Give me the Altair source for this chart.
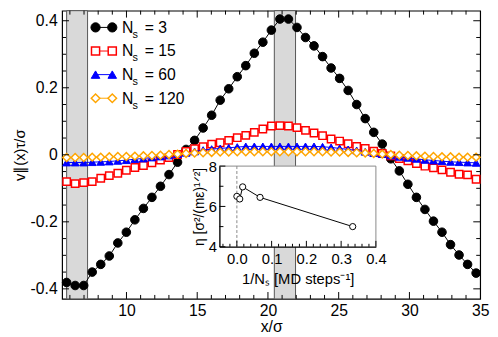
import altair as alt
import pandas as pd

# ---------------- data ----------------
x_start = 5.77
x_step = 0.603
n_pts = 49
x_vals = [round(x_start + x_step * i, 3) for i in range(n_pts)]

v_ns3 = [-0.381, -0.390, -0.390, -0.350, -0.327, -0.302, -0.263, -0.231, -0.194, -0.160,
         -0.127, -0.094, -0.059, -0.022, 0.016, 0.043, 0.080, 0.118, 0.163, 0.197,
         0.233, 0.266, 0.303, 0.336, 0.372, 0.405, 0.405, 0.380, 0.350, 0.325,
         0.293, 0.259, 0.228, 0.192, 0.150, 0.108, 0.067, 0.032, -0.012, -0.048,
         -0.088, -0.127, -0.163, -0.198, -0.231, -0.268, -0.299, -0.327, -0.353]
v_ns15 = [-0.080, -0.086, -0.083, -0.080, -0.070, -0.062, -0.055, -0.046, -0.038, -0.032,
          -0.024, -0.016, -0.008, 0.001, 0.010, 0.018, 0.024, 0.032, 0.036, 0.043,
          0.051, 0.058, 0.067, 0.077, 0.086, 0.087, 0.086, 0.081, 0.073, 0.065,
          0.057, 0.047, 0.041, 0.033, 0.025, 0.019, 0.011, 0.004, -0.003, -0.011,
          -0.018, -0.026, -0.034, -0.039, -0.045, -0.052, -0.058, -0.060, -0.073]
v_ns60 = [-0.023, -0.023, -0.023, -0.022, -0.021, -0.020, -0.018, -0.016, -0.013, -0.011,
          -0.008, -0.005, -0.002, 0.002, 0.006, 0.010, 0.014, 0.017, 0.019, 0.021,
          0.023, 0.025, 0.025, 0.025, 0.025, 0.025, 0.025, 0.025, 0.025, 0.025,
          0.024, 0.022, 0.019, 0.016, 0.013, 0.009, 0.005, 0.002, -0.002, -0.006,
          -0.009, -0.012, -0.015, -0.017, -0.019, -0.021, -0.022, -0.023, -0.024]
v_ns120 = [-0.008, -0.008, -0.008, -0.007, -0.007, -0.006, -0.005, -0.005, -0.004, -0.003,
           -0.002, -0.001, 0.001, 0.002, 0.004, 0.005, 0.006, 0.007, 0.008, 0.008,
           0.009, 0.009, 0.009, 0.009, 0.009, 0.009, 0.009, 0.009, 0.009, 0.009,
           0.009, 0.008, 0.008, 0.007, 0.006, 0.005, 0.004, 0.002, 0.001, -0.001,
           -0.002, -0.003, -0.004, -0.005, -0.006, -0.006, -0.007, -0.007, -0.007]

series_names = ["3", "15", "60", "120"]
series_values = [v_ns3, v_ns15, v_ns60, v_ns120]
series_colors = ["#000000", "#ff0000", "#0000ff", "#ffa500"]
series_fill = ["#000000", "#ffffff", "#0000ff", "#ffffff"]
series_shape = ["circle", "square", "triangle-up", "diamond"]
series_size = [76, 56, 64, 64]
series_sw = [1, 1.5, 1, 1.5]

band_lo = [5.77, 20.45]
band_hi = [7.25, 21.95]

inv_ns = [0.0, 0.0083, 0.0167, 0.0667, 0.3333]
eta = [6.5, 6.37, 6.97, 6.45, 5.0]

x_ticks_major = [10, 15, 20, 25, 30]
x_ticks_minor = [6, 7, 8, 9, 11, 12, 13, 14, 16, 17, 18, 19, 21, 22, 23, 24,
                 26, 27, 28, 29, 31, 32, 33, 34]
x_labels = [10, 15, 20, 25, 30, 35]
y_ticks_major = [-0.4, -0.2, 0.0, 0.2, 0.4]
y_ticks_minor = [-0.35, -0.3, -0.25, -0.15, -0.1, -0.05, 0.05, 0.1, 0.15, 0.25, 0.3, 0.35]

ix_ticks_major = [0.0, 0.1, 0.2, 0.3, 0.4]
ix_ticks_minor = [-0.04, -0.02, 0.02, 0.04, 0.06, 0.08, 0.12, 0.14, 0.16, 0.18,
                  0.22, 0.24, 0.26, 0.28, 0.32, 0.34, 0.36, 0.38]
iy_ticks_major = [4, 6, 8]
iy_ticks_minor = [5, 7]

# ---------------- layout ----------------
W, H = 425, 293
FONT = "Liberation Sans"
MAJ, MIN = 7, 4

xs = alt.Scale(domain=[5.45, 35], nice=False, zero=False)
ys = alt.Scale(domain=[-0.43, 0.43], nice=False, zero=False)

layers = []

# ---------------- main panel ----------------
bands = pd.DataFrame({"lo": band_lo, "hi": band_hi})
layers.append(alt.Chart(bands).mark_rect(fill="#d9d9d9", stroke="#555555", strokeWidth=1).encode(
    x=alt.X("lo:Q", scale=xs, axis=alt.Axis(
        orient="bottom", values=x_labels, ticks=False, tickSize=0,
        domain=False, grid=False, labelFontSize=16, labelPadding=4, labelFlush=False,
        labelOverlap=False, labelColor="black", title="x/σ", titleFontSize=16,
        titleFontWeight="normal", titlePadding=0, titleColor="black")),
    x2="hi:Q",
    y=alt.value(0), y2=alt.value(H),
))

y_axis = alt.Axis(
    orient="left", values=y_ticks_major, ticks=False, tickSize=0, domain=False, grid=False,
    labelFontSize=16, labelPadding=5, labelColor="black",
    labelExpr="datum.value == 0 ? '0' : (datum.value < 0 ? '-' + format(-datum.value, '.1f') : format(datum.value, '.1f'))",
    title="v∥(x)τ/σ", titleFontSize=15, titleFontWeight="normal", titlePadding=3,
    titleColor="black")

for k, (name, vals) in enumerate(zip(series_names, series_values)):
    df = pd.DataFrame({"x": x_vals, "v": vals})
    layers.append(alt.Chart(df).mark_line(color=series_colors[k], strokeWidth=1).encode(
        x=alt.X("x:Q", scale=xs, axis=None),
        y=alt.Y("v:Q", scale=ys, axis=y_axis if k == 0 else None),
    ))
    layers.append(alt.Chart(df).mark_point(
        shape=series_shape[k], size=series_size[k], filled=True, fill=series_fill[k],
        stroke=series_colors[k], strokeWidth=series_sw[k], opacity=1).encode(
        x=alt.X("x:Q", scale=xs, axis=None),
        y=alt.Y("v:Q", scale=ys, axis=None),
    ))


def xtick_rules(vals, y0, y1, scale):
    return alt.Chart(pd.DataFrame({"t": vals})).mark_rule(color="black", strokeWidth=1).encode(
        x=alt.X("t:Q", scale=scale, axis=None), y=alt.value(y0), y2=alt.value(y1))


def ytick_rules(vals, x0, x1, scale):
    return alt.Chart(pd.DataFrame({"t": vals})).mark_rule(color="black", strokeWidth=1).encode(
        y=alt.Y("t:Q", scale=scale, axis=None), x=alt.value(x0), x2=alt.value(x1))


layers += [
    xtick_rules(x_ticks_major, H, H - MAJ, xs),
    xtick_rules(x_ticks_minor, H, H - MIN, xs),
    xtick_rules(x_ticks_major, 0, MAJ, xs),
    xtick_rules(x_ticks_minor, 0, MIN, xs),
    ytick_rules(y_ticks_major, 0, MAJ, ys),
    ytick_rules(y_ticks_minor, 0, MIN, ys),
    ytick_rules(y_ticks_major, W, W - MAJ, ys),
    ytick_rules(y_ticks_minor, W, W - MIN, ys),
]

# ---------------- inset ----------------
IX0, IX1 = 160, 319
IY0, IY1 = 240, 158
ixs = alt.Scale(domain=[-0.05, 0.4], nice=False, zero=False, range=[IX0, IX1])
iys = alt.Scale(domain=[4, 8], nice=False, zero=False, range=[IY0, IY1])

one = pd.DataFrame({"z": [0.0]})
layers.append(alt.Chart(one).mark_rect(fill="white", stroke="#888888", strokeWidth=1).encode(
    x=alt.value(IX0), x2=alt.value(IX1), y=alt.value(IY1), y2=alt.value(IY0)))
layers.append(alt.Chart(one).mark_rule(color="#888888", strokeDash=[3, 2], strokeWidth=1).encode(
    x=alt.X("z:Q", scale=ixs, axis=None), y=alt.value(IY1), y2=alt.value(IY0)))

idf = pd.DataFrame({"inv": inv_ns, "eta": eta})
layers.append(alt.Chart(idf).mark_line(color="black", strokeWidth=1).encode(
    x=alt.X("inv:Q", scale=ixs, axis=alt.Axis(
        orient="bottom", offset=IY0 - H, values=ix_ticks_major, format=".1f", ticks=False,
        tickSize=0, domain=True, domainColor="black", domainWidth=1.2, grid=False,
        labelFontSize=15, labelPadding=5, labelFlush=False, labelOverlap=False,
        labelColor="black", title="1/Nₛ [MD steps⁻¹]", titleFontSize=15,
        titleFontWeight="normal", titlePadding=5, titleColor="black", zindex=1)),
    y=alt.Y("eta:Q", scale=iys, axis=alt.Axis(
        orient="left", offset=-IX0, values=iy_ticks_major, ticks=False, tickSize=0,
        domain=True, domainColor="black", domainWidth=1.2, grid=False,
        labelFontSize=15, labelPadding=3, labelColor="black",
        title="η [σ²/(mε)¹ᐟ²]", titleFontSize=14, titleFontWeight="normal",
        titlePadding=2, titleColor="black", zindex=1)),
))
layers.append(alt.Chart(idf).mark_point(shape="circle", size=40, filled=True, fill="white",
                                        stroke="black", strokeWidth=1, opacity=1).encode(
    x=alt.X("inv:Q", scale=ixs, axis=None), y=alt.Y("eta:Q", scale=iys, axis=None)))
layers += [
    xtick_rules(ix_ticks_major, IY0, IY0 - 6, ixs),
    xtick_rules(ix_ticks_minor, IY0, IY0 - 3, ixs),
    ytick_rules(iy_ticks_major, IX0, IX0 + 6, iys),
    ytick_rules(iy_ticks_minor, IX0, IX0 + 4, iys),
]

# ---------------- legend ----------------
lxs = alt.Scale(domain=[0, W], range=[0, W], nice=False, zero=False)
lys = alt.Scale(domain=[0, H], range=[0, H], nice=False, zero=False)
row_y = [17, 41, 65, 89]
sym_x0, sym_x1 = 34, 51
txt_x, sub_x, eq_x = 61, 71.5, 84

for k, name in enumerate(series_names):
    seg = pd.DataFrame({"lx": [sym_x0, sym_x1], "ly": [row_y[k], row_y[k]]})
    layers.append(alt.Chart(seg).mark_line(color=series_colors[k], strokeWidth=1).encode(
        x=alt.X("lx:Q", scale=lxs, axis=None), y=alt.Y("ly:Q", scale=lys, axis=None)))
    layers.append(alt.Chart(seg).mark_point(
        shape=series_shape[k], size=series_size[k] + 12, filled=True, fill=series_fill[k],
        stroke=series_colors[k], strokeWidth=series_sw[k], opacity=1).encode(
        x=alt.X("lx:Q", scale=lxs, axis=None), y=alt.Y("ly:Q", scale=lys, axis=None)))

ltxt = pd.DataFrame({
    "yb": [r + 5.5 for r in row_y],
    "ys": [r + 10.5 for r in row_y],
    "eq": ["= " + n for n in series_names],
    "tx": [txt_x] * 4, "sx": [sub_x] * 4, "ex": [eq_x] * 4,
})
layers.append(alt.Chart(ltxt).mark_text(align="left", baseline="alphabetic", fontSize=16,
                                        font=FONT, color="black").encode(
    x=alt.X("tx:Q", scale=lxs, axis=None), y=alt.Y("yb:Q", scale=lys, axis=None),
    text=alt.value("N")))
layers.append(alt.Chart(ltxt).mark_text(align="left", baseline="alphabetic", fontSize=11,
                                        font=FONT, color="black").encode(
    x=alt.X("sx:Q", scale=lxs, axis=None), y=alt.Y("ys:Q", scale=lys, axis=None),
    text=alt.value("s")))
layers.append(alt.Chart(ltxt).mark_text(align="left", baseline="alphabetic", fontSize=16,
                                        font=FONT, color="black").encode(
    x=alt.X("ex:Q", scale=lxs, axis=None), y=alt.Y("yb:Q", scale=lys, axis=None),
    text="eq:N"))

chart = alt.layer(*layers).resolve_scale(
    x="independent", y="independent").resolve_axis(
    x="independent", y="independent").properties(
    width=W, height=H,
    padding={"left": 55, "top": 0, "right": 10, "bottom": 36},
    autosize=alt.AutoSizeParams(type="none"),
).configure(
    font=FONT, background="white",
    view=alt.ViewConfig(stroke="black", strokeWidth=1.2),
)

chart.save("out.html", embed_options={"renderer": "svg", "actions": False})
